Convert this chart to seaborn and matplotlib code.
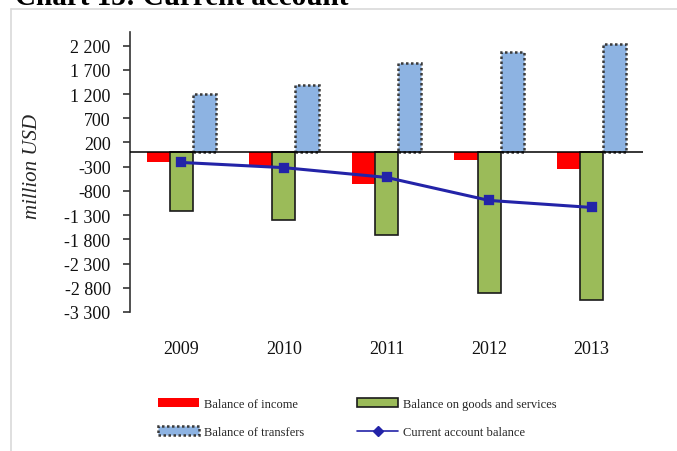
import matplotlib
matplotlib.use("Agg")
import matplotlib.pyplot as plt
from matplotlib.patches import Patch
from matplotlib.lines import Line2D
from matplotlib.ticker import FuncFormatter
import seaborn as sns
import pandas as pd
import numpy as np

# Balance of payments components, million USD
years = ["2009", "2010", "2011", "2012", "2013"]
balance_income = [-200, -310, -660, -165, -350]
balance_goods_services = [-1213, -1400, -1702, -2900, -3046]
balance_transfers = [1200, 1390, 1840, 2068, 2240]
current_account = [-213, -320, -522, -997, -1142]

series_names = ["Balance of income", "Balance on goods and services",
                "Balance of transfers"]
series_values = [balance_income, balance_goods_services, balance_transfers]
yticks = list(range(2200, -3301, -500))

RED = "#FF0000"
GREEN = "#9BBB59"
BLUE = "#8DB3E2"
LINE = "#2323A8"

df = pd.DataFrame({
    "year": [y for _ in series_names for y in years],
    "series": [s for s in series_names for _ in years],
    "value": [v for vals in series_values for v in vals],
})

sns.set_theme(style="white")
plt.rcParams["font.family"] = ["Liberation Serif", "DejaVu Serif"]

fig = plt.figure(figsize=(6.77, 4.52), dpi=100)
ax = fig.add_axes([130 / 677, 1 - 313 / 452, 513 / 677, 280 / 452])

sns.barplot(data=df, x="year", y="value", hue="series", order=years,
            hue_order=series_names, palette=[RED, GREEN, BLUE],
            width=0.675, gap=0, saturation=1, legend=False, ax=ax,
            err_kws={"linewidth": 0})

# bar edges per series
for cont, name in zip(ax.containers, series_names):
    for bar in cont:
        if name == "Balance of income":
            bar.set_edgecolor("none")
            bar.set_linewidth(0)
        elif name == "Balance on goods and services":
            bar.set_edgecolor("#1a1a1a")
            bar.set_linewidth(1.2)
        else:
            bar.set_edgecolor("#3a3a3a")
            bar.set_linewidth(1.8)
            bar.set_linestyle((0, (1, 1)))

sns.pointplot(x=years, y=current_account, color=LINE, markers="s",
              markersize=6, linewidth=2.2, ax=ax, errorbar=None)
for ln in ax.lines:
    ln.set_zorder(5)

ax.axhline(0, color="black", linewidth=1.1, zorder=4)

ax.set_xlim(-0.5, 4.5)
ax.set_ylim(-3300, 2480)
ax.set_yticks(yticks)
ax.yaxis.set_major_formatter(
    FuncFormatter(lambda v, _: f"{int(v):,}".replace(",", " ")))
ax.set_xlabel("")
ax.set_ylabel("million USD", fontsize=15, fontstyle="italic")
ax.yaxis.set_label_coords(-0.172, 0.525)

for side in ("top", "right", "bottom"):
    ax.spines[side].set_visible(False)
ax.spines["left"].set_color("#333333")
ax.spines["left"].set_linewidth(1.2)
ax.tick_params(axis="y", which="major", left=True, length=5, width=1.2,
               color="#333333", pad=9, labelsize=13, labelcolor="#111111")
ax.tick_params(axis="x", bottom=False, pad=14, labelsize=13,
               labelcolor="#111111")

# legend
handles = [
    Patch(facecolor=RED, edgecolor="none"),
    Patch(facecolor=BLUE, edgecolor="#3a3a3a", linestyle=(0, (1, 1)),
          linewidth=1.8),
    Patch(facecolor=GREEN, edgecolor="#1a1a1a", linewidth=1.2),
    Line2D([], [], color=LINE, linewidth=1.2, marker="D", markersize=5),
]
labels = ["Balance of income", "Balance of transfers",
          "Balance on goods and services", "Current account balance"]
fig.legend(handles, labels, ncol=2, loc="upper left",
           bbox_to_anchor=(158 / 677, 1 - 399 / 452), frameon=False,
           fontsize=9, handlelength=3.3, handleheight=0.75,
           handletextpad=0.4, columnspacing=4.2, labelspacing=1.3,
           borderpad=0, borderaxespad=0)

# outer frame and heading
fig.add_artist(Line2D([11 / 677, 11 / 677], [0, 1 - 10 / 452],
                      transform=fig.transFigure, color="#d9d9d9", lw=1.2))
fig.add_artist(Line2D([11 / 677, 1], [1 - 10 / 452, 1 - 10 / 452],
                      transform=fig.transFigure, color="#d9d9d9", lw=1.2))
fig.text(15 / 677, 1 - 5 / 452, "Chart 13: Current account",
         fontsize=21, fontweight="bold", color="black", va="baseline",
         ha="left")

fig.savefig("out.png", dpi=100)
